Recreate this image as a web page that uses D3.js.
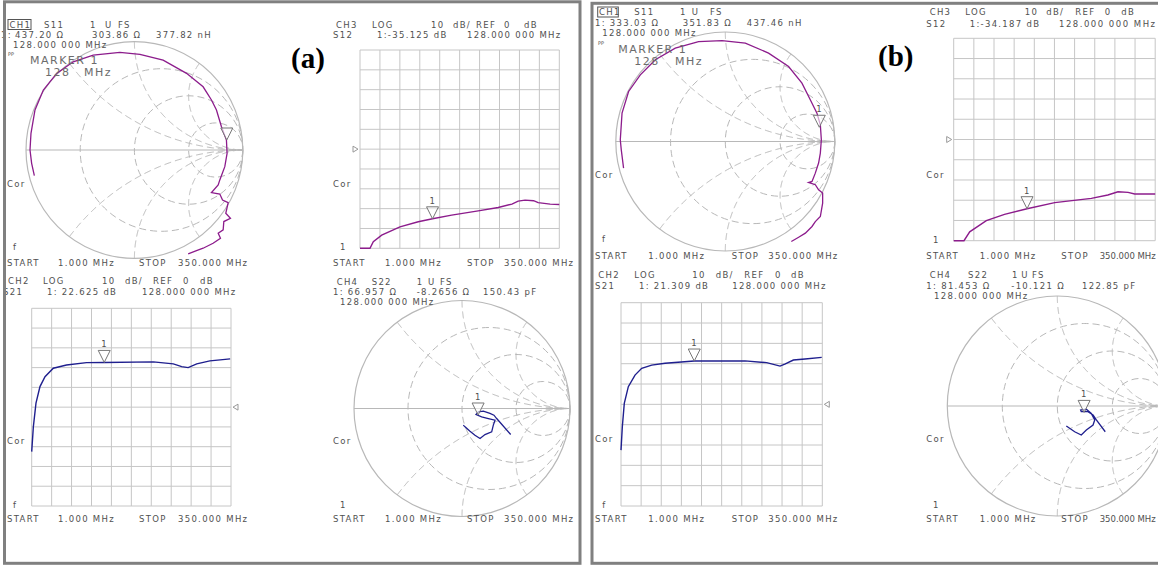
<!DOCTYPE html>
<html>
<head>
<meta charset="utf-8">
<script src="https://cdn.jsdelivr.net/npm/d3@7"></script>
<style>
  body { margin: 0; background: #fff; }
</style>
</head>
<body>
<div id="plot"></div>
<script>
// ---- sweep ----
var freqStart = 1, freqStop = 350, markerFreq = 128, z0 = 50;
var logRange = [-50, 50];          // 10 dB/div, REF 0 dB in the middle
var smithR = [1/3, 1, 3];
var smithX = [0.5, 1, 2];

// ---- (a) ----
var a_s12Freq = [1, 18.5, 24.3, 39, 71, 103, 128, 161.5, 208, 243, 267, 278, 290, 305, 313, 334, 350];
var a_s12Db   = [-50, -50, -46.7, -43.4, -39.2, -36.6, -35.1, -33.3, -31.1, -29.4, -27.7, -26.2, -25.7, -26, -27, -27.7, -27.9];
var a_s21Freq = [1, 3.9, 8.5, 15.5, 24.3, 38.8, 62, 97, 128, 214, 249, 263.6, 275, 290, 313, 331, 348.5];
var a_s21Db   = [-22.5, -9.9, 2, 10.4, 15.4, 19.7, 21.3, 22.5, 22.6, 22.9, 21.9, 20.5, 20, 21.9, 23.4, 23.9, 24.4];
var a_s11Re = [-0.923,-0.948,-0.963,-0.954,-0.917,-0.840,-0.717,-0.564,-0.380,-0.134,0.051,0.265,0.481,0.634,0.711,0.757,0.803,0.849,0.855,0.834,0.788,0.773,0.711,0.788,0.813,0.865,0.843,0.886,0.825,0.819,0.773,0.794,0.726,0.634,0.573,0.496];
var a_s11Im = [-0.237,-0.123,0,0.154,0.369,0.553,0.707,0.814,0.876,0.900,0.882,0.829,0.707,0.583,0.461,0.369,0.215,0.092,-0.031,-0.154,-0.276,-0.323,-0.393,-0.406,-0.461,-0.485,-0.584,-0.630,-0.660,-0.737,-0.768,-0.814,-0.860,-0.906,-0.928,-0.959];
var a_s22Re = [0.451,0.321,0.296,0.259,0.198,0.151,0.130,0.182,0.244,0.306,0.290,0.275,0.213,0.167,0.120,0.074,0.028,0.012];
var a_s22Im = [-0.241,-0.093,-0.062,-0.046,-0.025,-0.031,-0.056,-0.077,-0.093,-0.108,-0.154,-0.216,-0.241,-0.278,-0.247,-0.210,-0.170,-0.154];
var a_s11Marker = [437.20, 303.86];   // ohm, ohm
var a_s22Marker = [66.957, -8.2656];
var a_s12Marker = -35.125;            // dB
var a_s21Marker = 22.625;

// ---- (b) ----
var b_s12Freq = [1, 18.8, 28.7, 57.5, 89, 128, 176, 239.4, 268, 285.6, 303, 314.5, 350];
var b_s12Db   = [-50, -50, -45.6, -40.1, -37, -34.2, -31.2, -29.1, -27.4, -25.8, -26.1, -26.9, -26.9];
var b_s21Freq = [1, 3.3, 6.7, 13.7, 25.3, 36.9, 54.2, 77.3, 128, 216, 253.6, 276.7, 285, 299.8, 320, 349];
var b_s21Db   = [-22.5, -11, 0.5, 8.7, 14.4, 17.7, 19.3, 20.2, 21.3, 21.4, 20.5, 18.8, 19.8, 21.8, 22.3, 23.1];
var b_s11Re = [-0.929,-0.950,-0.959,-0.943,-0.883,-0.776,-0.639,-0.457,-0.244,-0.030,0.183,0.395,0.578,0.700,0.776,0.837,0.868,0.877,0.868,0.852,0.822,0.792,0.761,0.822,0.852,0.889,0.889,0.868,0.822,0.792,0.731,0.670,0.603];
var b_s11Im = [-0.243,-0.076,0.016,0.259,0.457,0.609,0.746,0.853,0.913,0.922,0.899,0.807,0.685,0.533,0.381,0.259,0.153,0.016,-0.106,-0.197,-0.289,-0.365,-0.374,-0.395,-0.441,-0.471,-0.563,-0.685,-0.731,-0.776,-0.837,-0.874,-0.913];
var b_s22Re = [0.436,0.355,0.325,0.279,0.218,0.212,0.264,0.309,0.340,0.325,0.264,0.218,0.158,0.112,0.082];
var b_s22Im = [-0.234,-0.127,-0.082,-0.052,-0.052,-0.036,-0.030,-0.067,-0.127,-0.173,-0.218,-0.264,-0.234,-0.203,-0.182];
var b_s11Marker = [333.03, 351.83];
var b_s22Marker = [81.453, -10.121];
var b_s12Marker = -34.187;
var b_s21Marker = 21.309;

// ---- colours ----
var purple = "#8c1c8c", navy = "#1f1f8e";
var textCol = "#505050", gridCol = "#c6c6c6", smithCol = "#b8b8b8";

var svg = d3.select("#plot").append("svg")
  .attr("width", 1158).attr("height", 565)
  .style("background", "#fff");

function txt(x, y, s, size, fill, ls) {
  return svg.append("text").attr("x", x).attr("y", y)
    .attr("font-family", "DejaVu Sans")
    .attr("font-size", (size || 8.5) + "px")
    .attr("letter-spacing", (ls == null ? 1.3 : ls) + "px")
    .attr("fill", fill || textCol)
    .text(s);
}

function texts(list) {
  list.forEach(function(t){
    var el = txt(t[0], t[1], t[2]);
    // squeeze the few texts that would run past the right edge
    if (t[3]) el.attr("letter-spacing", "0px").attr("textLength", t[3]).attr("lengthAdjust", "spacing");
  });
}

function markerTri(g, x, y, label) {
  g.append("path")
    .attr("d", "M" + (x-6) + "," + (y-12) + "L" + (x+6) + "," + (y-12) + "L" + x + "," + y + "Z")
    .attr("fill", "#fff").attr("fill-opacity", 0.6)
    .attr("stroke", "#777").attr("stroke-width", 1);
  if (label) txt(x - 3, y - 15, "1", 8.5, textCol, 0);
}

// rectangular LOG MAG channel
function drawLog(L, fr, db, mk, color, refSide) {
  var g = svg.append("g");
  var x = d3.scaleLinear().domain([freqStart, freqStop]).range([L.x0, L.x1]);
  var y = d3.scaleLinear().domain(logRange).range([L.y1, L.y0]).clamp(true);

  var xt = d3.range(11).map(function(i){ return freqStart + i * (freqStop - freqStart) / 10; });
  g.selectAll(".vx").data(xt).enter().append("line")
    .attr("x1", function(d){ return x(d); }).attr("x2", function(d){ return x(d); })
    .attr("y1", y(logRange[0])).attr("y2", y(logRange[1]))
    .attr("stroke", gridCol).attr("stroke-width", 1);
  g.selectAll(".hy").data(y.ticks(10)).enter().append("line")
    .attr("x1", x(freqStart)).attr("x2", x(freqStop))
    .attr("y1", function(d){ return y(d); }).attr("y2", function(d){ return y(d); })
    .attr("stroke", gridCol).attr("stroke-width", 1);

  var line = d3.line()
    .x(function(d){ return x(d[0]); })
    .y(function(d){ return y(d[1]); });
  g.append("path").datum(d3.zip(fr, db))
    .attr("d", line).attr("fill", "none")
    .attr("stroke", color).attr("stroke-width", 1.4);

  markerTri(g, x(markerFreq), y(mk), true);

  // reference position arrow
  var ry = y(0);
  if (refSide == "left") {
    var ax = x(freqStart) - 7;
    g.append("path").attr("d", "M" + ax + "," + (ry-3) + "L" + (ax+5) + "," + ry + "L" + ax + "," + (ry+3) + "Z")
      .attr("fill", "none").attr("stroke", "#999");
  } else {
    var bx = x(freqStop) + 7;
    g.append("path").attr("d", "M" + bx + "," + (ry-3) + "L" + (bx-5) + "," + ry + "L" + bx + "," + (ry+3) + "Z")
      .attr("fill", "none").attr("stroke", "#999");
  }
  texts(L.text);
}

function gammaOf(z) {
  // z = [r, x] normalised
  var r = z[0], xx = z[1];
  var den = (r + 1) * (r + 1) + xx * xx;
  return [(r * r - 1 + xx * xx) / den, 2 * xx / den];
}

// Smith chart channel
function drawSmith(L, re, im, mk, color, mkLabel) {
  var g = svg.append("g");
  var sx = d3.scaleLinear().domain([-1, 1]).range([L.cx - L.R, L.cx + L.R]);
  var sy = d3.scaleLinear().domain([-1, 1]).range([L.cy + L.R, L.cy - L.R]);
  var line = d3.line().x(function(d){ return sx(d[0]); }).y(function(d){ return sy(d[1]); });

  g.append("circle").attr("cx", sx(0)).attr("cy", sy(0)).attr("r", sx(1) - sx(0))
    .attr("fill", "none").attr("stroke", smithCol).attr("stroke-width", 1.2);
  g.append("line").attr("x1", sx(-1)).attr("x2", sx(1)).attr("y1", sy(0)).attr("y2", sy(0))
    .attr("stroke", smithCol).attr("stroke-width", 1.2);

  g.selectAll(".rc").data(smithR).enter().append("circle")
    .attr("cx", function(r){ return sx(r / (1 + r)); })
    .attr("cy", sy(0))
    .attr("r", function(r){ return sx(1 / (1 + r)) - sx(0); })
    .attr("fill", "none").attr("stroke", smithCol)
    .attr("stroke-dasharray", "7,4");

  var arcs = [];
  smithX.forEach(function(xv){
    [xv, -xv].forEach(function(xx){
      var pts = d3.range(0, 1, 0.004).map(function(t){ return gammaOf([t / (1 - t), xx]); });
      pts.push([1, 0]);
      arcs.push(pts);
    });
  });
  g.selectAll(".xa").data(arcs).enter().append("path")
    .attr("d", line).attr("fill", "none").attr("stroke", smithCol)
    .attr("stroke-dasharray", "7,4");

  g.append("path").datum(d3.zip(re, im))
    .attr("d", line).attr("fill", "none")
    .attr("stroke", color).attr("stroke-width", 1.3);

  var gm = gammaOf([mk[0] / z0, mk[1] / z0]);
  markerTri(g, sx(gm[0]), sy(gm[1]), mkLabel);

  if (L.box) {
    svg.append("rect").attr("x", L.box[0]).attr("y", L.box[1]).attr("width", L.box[2]).attr("height", L.box[3])
      .attr("fill", "none").attr("stroke", "#555").attr("stroke-width", 1);
  }
  if (L.marker) {
    L.marker.forEach(function(t){ txt(t[0], t[1], t[2], 11, "#6c6c6c", 1.5); });
    txt(L.pp[0], L.pp[1], "PP", 5, textCol, 0);
  }
  texts(L.text);
}

// ---- layout: panel (a) ----
var a_ch1 = { cx: 134.4, cy: 150, R: 108.4, box: [8, 19.5, 23, 10], pp: [8, 56],
  marker: [[30, 64, "MARKER 1"], [45, 76, "128"], [84, 76, "MHz"]],
  text: [[9.5, 27.5, "CH1"], [44, 27.5, "S11"], [90, 27.5, "1"], [105, 27.5, "U"], [118, 27.5, "FS"],
         [1, 38, "1:"], [15, 38, "437.20 Ω"], [92, 38, "303.86 Ω"], [156, 38, "377.82 nH"],
         [13, 48, "128.000 000 MHz"], [7, 187, "Cor"], [13, 250, "f"],
         [7, 266, "START"], [58, 266, "1.000 MHz"], [139, 266, "STOP"], [178, 266, "350.000 MHz"]] };
var a_ch3 = { x0: 360, x1: 559.3, y0: 50, y1: 248.3,
  text: [[336, 27.5, "CH3"], [372, 27.5, "LOG"], [431, 27.5, "10"], [453, 27.5, "dB/"], [476, 27.5, "REF"], [504, 27.5, "0"], [524, 27.5, "dB"],
         [333, 38, "S12"], [377, 38, "1:-35.125 dB"], [467, 38, "128.000 000 MHz"],
         [333, 187, "Cor"], [340, 250, "1"],
         [333, 266, "START"], [385, 266, "1.000 MHz"], [467, 266, "STOP"], [504, 266, "350.000 MHz"]] };
var a_ch2 = { x0: 31.7, x1: 231, y0: 308.3, y1: 506,
  text: [[8, 284, "CH2"], [43, 284, "LOG"], [102, 284, "10"], [125, 284, "dB/"], [153, 284, "REF"], [183, 284, "0"], [200, 284, "dB"],
         [3, 295, "S21"], [47, 295, "1: 22.625 dB"], [142, 295, "128.000 000 MHz"],
         [7, 444, "Cor"], [13, 508, "f"],
         [7, 522, "START"], [58, 522, "1.000 MHz"], [139, 522, "STOP"], [178, 522, "350.000 MHz"]] };
var a_ch4 = { cx: 462, cy: 408.5, R: 108,
  text: [[336.7, 285, "CH4"], [371.7, 285, "S22"], [416.7, 285, "1"], [428, 285, "U"], [440, 285, "FS"],
         [333, 295, "1: 66.957 Ω"], [416.7, 295, "-8.2656 Ω"], [483, 295, "150.43 pF"],
         [340, 305, "128.000 000 MHz"], [333, 444, "Cor"], [340, 508, "1"],
         [333, 522, "START"], [385, 522, "1.000 MHz"], [467, 522, "STOP"], [504, 522, "350.000 MHz"]] };

// ---- layout: panel (b) ----
var b_ch1 = { cx: 725.3, cy: 141.5, R: 109.5, box: [597.7, 7, 20.6, 10], pp: [598, 45],
  marker: [[618.3, 53.3, "MARKER 1"], [634.3, 65, "128"], [675, 65, "MHz"]],
  text: [[599, 15, "CH1"], [634.3, 15, "S11"], [680, 15, "1"], [691.7, 15, "U"], [710, 15, "FS"],
         [595, 25.5, "1: 333.03 Ω"], [682.7, 25.5, "351.83 Ω"], [746.7, 25.5, "437.46 nH"],
         [602.3, 36, "128.000 000 MHz"], [595, 178.3, "Cor"], [602, 241.7, "f"],
         [595, 259.3, "START"], [648.3, 259.3, "1.000 MHz"], [731.7, 259.3, "STOP"], [768.3, 259.3, "350.000 MHz"]] };
var b_ch3 = { x0: 953.7, x1: 1155.2, y0: 38.3, y1: 240.7,
  text: [[929.7, 15, "CH3"], [965.3, 15, "LOG"], [1024.7, 15, "10"], [1046.3, 15, "dB/"], [1075.3, 15, "REF"], [1104.7, 15, "0"], [1121.3, 15, "dB"],
         [926.3, 26.5, "S12"], [969.7, 26.5, "1:-34.187 dB"], [1059, 26.5, "128.000 000 MHz", 96],
         [926.3, 178.3, "Cor"], [933, 242.7, "1"],
         [926.3, 259.3, "START"], [979.7, 259.3, "1.000 MHz"], [1061.3, 259.3, "STOP"], [1099.7, 259.3, "350.000 MHz", 56]] };
var b_ch2 = { x0: 621, x1: 822.3, y0: 302.7, y1: 506,
  text: [[598.3, 278.3, "CH2"], [634.3, 278.3, "LOG"], [692.3, 278.3, "10"], [715.7, 278.3, "dB/"], [744.3, 278.3, "REF"], [775, 278.3, "0"], [791, 278.3, "dB"],
         [595, 288.8, "S21"], [639, 288.8, "1: 21.309 dB"], [732.3, 288.8, "128.000 000 MHz"],
         [595, 441.7, "Cor"], [602.3, 508.3, "f"],
         [595, 521.7, "START"], [648.3, 521.7, "1.000 MHz"], [731.7, 521.7, "STOP"], [768.3, 521.7, "350.000 MHz"]] };
var b_ch4 = { cx: 1057.3, cy: 406, R: 110,
  text: [[929.7, 278.3, "CH4"], [968, 278.3, "S22"], [1012, 278.3, "1"], [1021.3, 278.3, "U"], [1032, 278.3, "FS"],
         [926.3, 288.8, "1: 81.453 Ω"], [1011.3, 288.8, "-10.121 Ω"], [1082, 288.8, "122.85 pF"],
         [934, 298.8, "128.000 000 MHz"], [926.3, 441.7, "Cor"], [933, 508.3, "1"],
         [926.3, 521.7, "START"], [979.7, 521.7, "1.000 MHz"], [1061.3, 521.7, "STOP"], [1099.7, 521.7, "350.000 MHz", 56]] };

drawSmith(a_ch1, a_s11Re, a_s11Im, a_s11Marker, purple, false);
drawLog(a_ch3, a_s12Freq, a_s12Db, a_s12Marker, purple, "left");
drawLog(a_ch2, a_s21Freq, a_s21Db, a_s21Marker, navy, "right");
drawSmith(a_ch4, a_s22Re, a_s22Im, a_s22Marker, navy, true);

drawSmith(b_ch1, b_s11Re, b_s11Im, b_s11Marker, purple, true);
drawLog(b_ch3, b_s12Freq, b_s12Db, b_s12Marker, purple, "left");
drawLog(b_ch2, b_s21Freq, b_s21Db, b_s21Marker, navy, "right");
drawSmith(b_ch4, b_s22Re, b_s22Im, b_s22Marker, navy, true);

// panel letters
svg.append("text").attr("x", 291).attr("y", 68)
  .attr("font-family", "Liberation Serif").attr("font-weight", "bold")
  .attr("font-size", "29px").attr("fill", "#000").text("(a)");
svg.append("text").attr("x", 878).attr("y", 66)
  .attr("font-family", "Liberation Serif").attr("font-weight", "bold")
  .attr("font-size", "29px").attr("fill", "#000").text("(b)");

// screenshot frames
svg.append("rect").attr("x", 4.5).attr("y", 1.8).attr("width", 575.5).attr("height", 561.5)
  .attr("fill", "none").attr("stroke", "#808080").attr("stroke-width", 3);
svg.append("rect").attr("x", 592).attr("y", 3.3).attr("width", 600).attr("height", 560)
  .attr("fill", "none").attr("stroke", "#808080").attr("stroke-width", 3);
</script>
</body>
</html>
